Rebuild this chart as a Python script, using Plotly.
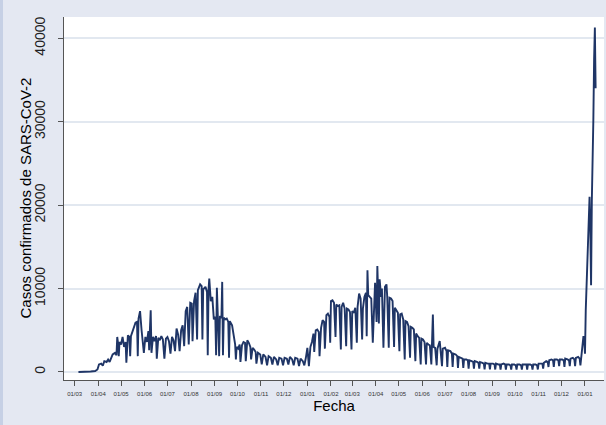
import plotly.graph_objects as go
import pandas as pd

# ---- data (dates, confirmed cases) ----
fechas_2020 = [
    "2020-03-06", "2020-03-14", "2020-03-22", "2020-03-28", "2020-03-31", "2020-04-02", "2020-04-05", "2020-04-07",
    "2020-04-09", "2020-04-12", "2020-04-14", "2020-04-16", "2020-04-18", "2020-04-20", "2020-04-23", "2020-04-25",
    "2020-04-26", "2020-04-27", "2020-04-28", "2020-04-29", "2020-05-01", "2020-05-03", "2020-05-05", "2020-05-07",
    "2020-05-08", "2020-05-10", "2020-05-12", "2020-05-13", "2020-05-14", "2020-05-17", "2020-05-20", "2020-05-22",
    "2020-05-23", "2020-05-24", "2020-05-26", "2020-05-28", "2020-05-30", "2020-05-31", "2020-06-02", "2020-06-04",
    "2020-06-06", "2020-06-07", "2020-06-08", "2020-06-09", "2020-06-10", "2020-06-12", "2020-06-14", "2020-06-16",
    "2020-06-17", "2020-06-19", "2020-06-21", "2020-06-23", "2020-06-25", "2020-06-27", "2020-06-29", "2020-07-01",
    "2020-07-03", "2020-07-05", "2020-07-07", "2020-07-09", "2020-07-11", "2020-07-13", "2020-07-15", "2020-07-17",
    "2020-07-19", "2020-07-21", "2020-07-23", "2020-07-25", "2020-07-27", "2020-07-29", "2020-07-31", "2020-08-02",
    "2020-08-03", "2020-08-05", "2020-08-07", "2020-08-09", "2020-08-10", "2020-08-13", "2020-08-15", "2020-08-16",
    "2020-08-17", "2020-08-20", "2020-08-22", "2020-08-23", "2020-08-24", "2020-08-25", "2020-08-27", "2020-08-29",
    "2020-08-31", "2020-09-01", "2020-09-02", "2020-09-03", "2020-09-04", "2020-09-05", "2020-09-07", "2020-09-08",
    "2020-09-10", "2020-09-11", "2020-09-12", "2020-09-13", "2020-09-15", "2020-09-17", "2020-09-19", "2020-09-20",
    "2020-09-21", "2020-09-24", "2020-09-26", "2020-09-28", "2020-09-29", "2020-09-30", "2020-10-02", "2020-10-04",
    "2020-10-05", "2020-10-07", "2020-10-09", "2020-10-11", "2020-10-12", "2020-10-14", "2020-10-16", "2020-10-18",
    "2020-10-19", "2020-10-21", "2020-10-23", "2020-10-25", "2020-10-26", "2020-10-28", "2020-10-31", "2020-11-02",
    "2020-11-04", "2020-11-07", "2020-11-09", "2020-11-11", "2020-11-14", "2020-11-16", "2020-11-18", "2020-11-21",
    "2020-11-23", "2020-11-25", "2020-11-28", "2020-11-30", "2020-12-02", "2020-12-05", "2020-12-07", "2020-12-09",
    "2020-12-12", "2020-12-14", "2020-12-16", "2020-12-19", "2020-12-21", "2020-12-23", "2020-12-26", "2020-12-28",
    "2020-12-30",
]
casos_2020 = [
    0, 10, 60, 120, 300, 900, 1000, 750,
    1300, 1200, 1500, 1200, 1600, 2100, 2300, 2000,
    4200, 3500, 1900, 3600, 3300, 4200, 3000, 3600,
    1100, 4400, 4200, 1900, 4300, 5100, 5900, 6000,
    1900, 6400, 7300, 5000, 3600, 2300, 4200, 3600,
    4900, 2600, 5200, 7400, 2300, 4200, 3700, 4300,
    1600, 4100, 3800, 4300, 3900, 1600, 4000, 4200,
    3700, 2200, 4200, 3800, 2500, 5200, 4500, 2500,
    5000, 5600, 3100, 7300, 7800, 3300, 8300, 8200,
    3700, 8500, 9500, 3900, 9800, 10500, 10300, 3900,
    9900, 10200, 9600, 2000, 9800, 11200, 8500, 9000,
    6300, 6600, 6400, 2000, 10100, 6300, 1900, 6700,
    6500, 10800, 2000, 6500, 6300, 6400, 6000, 1700,
    6100, 5600, 4500, 3300, 1500, 3000, 2800, 3300,
    1200, 3200, 3600, 3500, 1300, 3800, 3500, 3000,
    1500, 2900, 2700, 2400, 1000, 2300, 2100, 900,
    2100, 1800, 800, 1900, 1700, 900, 1800, 1500,
    800, 1700, 1600, 800, 1700, 1600, 900, 1800,
    1500, 800, 1700, 1600, 700, 1600, 1300, 800,
    1700,
]

fechas_2021 = [
    "2021-01-01", "2021-01-03", "2021-01-05", "2021-01-07", "2021-01-09", "2021-01-10", "2021-01-12", "2021-01-14",
    "2021-01-16", "2021-01-17", "2021-01-19", "2021-01-21", "2021-01-23", "2021-01-24", "2021-01-26", "2021-01-28",
    "2021-01-30", "2021-01-31", "2021-02-01", "2021-02-03", "2021-02-05", "2021-02-07", "2021-02-08", "2021-02-10",
    "2021-02-12", "2021-02-14", "2021-02-15", "2021-02-17", "2021-02-19", "2021-02-21", "2021-02-22", "2021-02-24",
    "2021-02-26", "2021-02-28", "2021-03-01", "2021-03-03", "2021-03-05", "2021-03-07", "2021-03-08", "2021-03-10",
    "2021-03-12", "2021-03-14", "2021-03-15", "2021-03-17", "2021-03-19", "2021-03-20", "2021-03-21", "2021-03-22",
    "2021-03-24", "2021-03-26", "2021-03-28", "2021-03-30", "2021-03-31", "2021-04-02", "2021-04-03", "2021-04-04",
    "2021-04-05", "2021-04-06", "2021-04-08", "2021-04-09", "2021-04-11", "2021-04-13", "2021-04-15", "2021-04-16",
    "2021-04-18", "2021-04-19", "2021-04-21", "2021-04-23", "2021-04-25", "2021-04-26", "2021-04-28", "2021-04-30",
    "2021-05-02", "2021-05-03", "2021-05-05", "2021-05-07", "2021-05-09", "2021-05-10", "2021-05-12", "2021-05-14",
    "2021-05-16", "2021-05-17", "2021-05-19", "2021-05-21", "2021-05-23", "2021-05-24", "2021-05-26", "2021-05-28",
    "2021-05-30", "2021-05-31", "2021-06-02", "2021-06-04", "2021-06-06", "2021-06-07", "2021-06-09", "2021-06-11",
    "2021-06-13", "2021-06-14", "2021-06-15", "2021-06-16", "2021-06-18", "2021-06-20", "2021-06-21", "2021-06-24",
    "2021-06-25", "2021-06-27", "2021-06-28", "2021-07-01", "2021-07-03", "2021-07-04", "2021-07-05", "2021-07-08",
    "2021-07-10", "2021-07-11", "2021-07-12", "2021-07-15", "2021-07-17", "2021-07-18", "2021-07-19", "2021-07-22",
    "2021-07-24", "2021-07-25", "2021-07-26", "2021-07-29", "2021-07-31", "2021-08-01", "2021-08-02", "2021-08-05",
    "2021-08-07", "2021-08-08", "2021-08-09", "2021-08-12", "2021-08-14", "2021-08-15", "2021-08-16", "2021-08-19",
    "2021-08-21", "2021-08-22", "2021-08-23", "2021-08-26", "2021-08-28", "2021-08-29", "2021-08-30", "2021-09-02",
    "2021-09-04", "2021-09-05", "2021-09-06", "2021-09-09", "2021-09-11", "2021-09-12", "2021-09-13", "2021-09-16",
    "2021-09-18", "2021-09-19", "2021-09-20", "2021-09-23", "2021-09-25", "2021-09-26", "2021-09-27", "2021-09-30",
    "2021-10-02", "2021-10-03", "2021-10-04", "2021-10-07", "2021-10-09", "2021-10-10", "2021-10-11", "2021-10-14",
    "2021-10-16", "2021-10-17", "2021-10-18", "2021-10-21", "2021-10-23", "2021-10-24", "2021-10-25", "2021-10-28",
    "2021-10-30", "2021-10-31", "2021-11-01", "2021-11-04", "2021-11-06", "2021-11-07", "2021-11-08", "2021-11-11",
    "2021-11-13", "2021-11-14", "2021-11-15", "2021-11-18", "2021-11-20", "2021-11-21", "2021-11-22", "2021-11-25",
    "2021-11-27", "2021-11-28", "2021-11-29", "2021-12-02", "2021-12-04", "2021-12-05", "2021-12-06", "2021-12-09",
    "2021-12-11", "2021-12-12", "2021-12-13", "2021-12-16", "2021-12-18", "2021-12-19", "2021-12-20", "2021-12-23",
    "2021-12-25", "2021-12-26", "2021-12-27", "2021-12-28", "2021-12-29", "2021-12-30", "2021-12-31",
]
casos_2021 = [
    2900, 700, 3000, 3600, 4600, 2400, 5000, 5100,
    4800, 1900, 5300, 6200, 6000, 2800, 6800, 7000,
    6600, 3500, 8500, 8600, 8300, 4200, 8100, 7900,
    8000, 2700, 7800, 8300, 7600, 3100, 7600, 7500,
    7200, 2700, 7300, 7100, 7700, 3500, 7800, 9400,
    8800, 3900, 7600, 9000, 9500, 4300, 12200, 9200,
    9000, 8800, 3500, 10400, 10700, 6000, 12700, 9500,
    5800, 11100, 9000, 10000, 2900, 10200, 10500, 9000,
    2900, 8900, 8800, 8500, 3000, 7700, 7400, 7100,
    2500, 6900, 7000, 6300, 1500, 6100, 6000, 5500,
    1700, 5400, 5300, 5100, 1300, 4600, 4300, 4100,
    900, 4000, 3900, 3600, 900, 3500, 3300, 3200,
    900, 3100, 6900, 3000, 2900, 800, 2800, 3700,
    2700, 700, 2800, 2900, 2500, 600, 2600, 2500,
    2200, 600, 2200, 2100, 1900, 500, 1800, 1700,
    1600, 500, 1500, 1500, 1400, 400, 1400, 1300,
    1200, 400, 1300, 1200, 1100, 400, 1200, 1100,
    1000, 300, 1100, 1000, 1000, 300, 1000, 1000,
    900, 300, 1000, 900, 900, 300, 900, 1000,
    900, 300, 900, 900, 800, 300, 900, 900,
    800, 300, 900, 900, 800, 300, 900, 900,
    900, 300, 900, 900, 800, 300, 900, 900,
    800, 300, 1000, 1000, 1000, 400, 1100, 1300,
    1200, 600, 1400, 1500, 1400, 600, 1500, 1500,
    1400, 700, 1500, 1500, 1400, 600, 1600, 1500,
    1400, 700, 1600, 1700, 1500, 700, 1700, 1800,
    1600, 800, 1800, 2200, 3500, 4300, 3800,
]

fechas_2022 = [
    "2022-01-01", "2022-01-02", "2022-01-03", "2022-01-04", "2022-01-05", "2022-01-06", "2022-01-07", "2022-01-08",
    "2022-01-09", "2022-01-10", "2022-01-11", "2022-01-12", "2022-01-13", "2022-01-14", "2022-01-15",
]
casos_2022 = [
    2200, 7400, 10500, 14000, 17500, 18000, 21000, 17000,
    10400, 20500, 30000, 30200, 37500, 41300, 34000,
]

y_ticks = [0, 10000, 20000, 30000, 40000]
y_tick_labels = ["0", "10000", "20000", "30000", "40000"]
x_ticks = pd.date_range("2020-03-01", "2022-01-01", freq="MS")
x_title = "Fecha"
y_title = "Casos confirmados de SARS-CoV-2"

fechas = pd.to_datetime(fechas_2020 + fechas_2021 + fechas_2022)
casos = casos_2020 + casos_2021 + casos_2022

fig = go.Figure(
    go.Scatter(
        x=fechas, y=casos, mode="lines",
        line=dict(color="#1f3566", width=1.9),
        showlegend=False,
    )
)

W, H = 606, 425
ml, mr, mt, mb = 64, 2, 17, 45
pw, ph = W - ml - mr, H - mt - mb

fig.update_layout(
    width=W, height=H,
    margin=dict(l=ml, r=mr, t=mt, b=mb, pad=0),
    paper_bgcolor="#e4e8f2",
    plot_bgcolor="#ffffff",
    font=dict(family="Liberation Sans, Arial, sans-serif", color="#111111"),
    xaxis=dict(
        type="date",
        range=["2020-02-16", "2022-01-26"],
        tickvals=x_ticks,
        tickformat="%d/%m",
        tickfont=dict(size=6, color="#333333"),
        ticks="outside", ticklen=5, tickcolor="#555555", tickwidth=1,
        ticklabelstandoff=3,
        showline=True, linecolor="#555555", linewidth=1,
        showgrid=False, zeroline=False,
        title=dict(text=x_title, font=dict(size=15, color="#000000"), standoff=1),
    ),
    yaxis=dict(
        range=[-960, 42550],
        tickvals=y_ticks,
        ticktext=y_tick_labels,
        tickangle=-90,
        tickfont=dict(size=14, color="#222222"),
        ticks="outside", ticklen=5, tickcolor="#555555", tickwidth=1,
        ticklabelstandoff=7,
        showline=True, linecolor="#555555", linewidth=1,
        showgrid=True, gridcolor="#e2e8f0", gridwidth=1.5,
        zeroline=False,
    ),
    annotations=[
        dict(text=y_title, textangle=-90, xref="paper", yref="paper",
             x=(25 - ml) / pw, y=0.5, xanchor="center", yanchor="middle",
             showarrow=False, font=dict(size=15, color="#000000")),
    ],
    shapes=[
        dict(type="rect", xref="paper", yref="paper",
             x0=-ml / pw, x1=-(ml - 3) / pw, y0=-mb / ph, y1=1 + mt / ph,
             fillcolor="#c6d0e5", line=dict(width=0), layer="below"),
    ],
)

fig.write_html("out.html")
